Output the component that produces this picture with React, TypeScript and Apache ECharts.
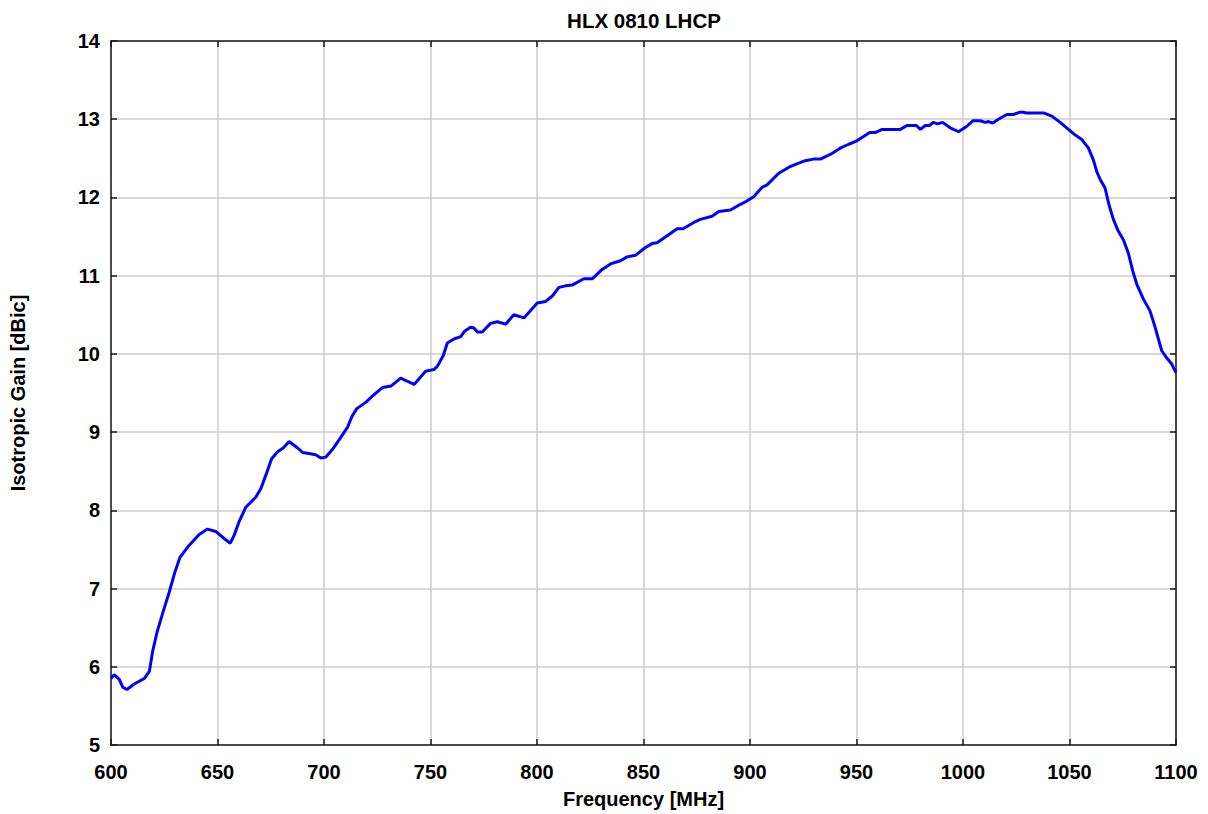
import React, { useEffect, useRef } from "react";
import * as echarts from "echarts";

const TITLE = "HLX 0810 LHCP";
const X_NAME = "Frequency [MHz]";
const Y_NAME = "Isotropic Gain [dBic]";

const freqs: number[] = [
  600, 601.5, 603.9, 605.5, 607.5, 610.9, 615.6, 618, 619.5, 621.6, 624.2, 627.4, 630, 632.4, 636,
  641.4, 645.3, 649.2, 653.1, 656, 657.8, 660.2, 663.3, 668, 670.4, 672.7, 675.4, 678.2, 681, 683.6,
  687.5, 689.9, 692.2, 696.1, 698.5, 700.8, 704, 707.8, 711, 713.3, 715.4, 719.6, 722.7, 727.4, 731.6,
  736, 739.2, 742.3, 747.8, 751.6, 753.2, 756, 757.9, 761, 764.2, 766, 768.8, 770.4, 772, 774.3,
  778.2, 781.4, 785.3, 789.1, 793.9, 800.1, 804, 807.2, 810.3, 813.4, 816.5, 822, 825.9, 830.6, 834.5,
  839.2, 842.3, 846.2, 850.9, 854, 856.4, 861.1, 865.8, 868.6, 873.6, 876.7, 882.2, 885.3, 890.8, 894.7,
  898.3, 901.7, 905.7, 908, 913.5, 918.5, 922, 925.9, 929.8, 933, 937.7, 942.3, 946.3, 949.9, 953.3,
  956.2, 958.8, 962, 965.9, 970.6, 973.7, 978.1, 980, 982.3, 984.3, 986, 988.1, 990.4, 994, 997.9,
  1001.8, 1004.6, 1008.1, 1010.4, 1012, 1014, 1016.6, 1020.6, 1023.7, 1026.8, 1028.1, 1030, 1037.8, 1041.7, 1045.6,
  1049.5, 1052.6, 1055.8, 1058.9, 1061.2, 1062.8, 1064.4, 1066.7, 1068.7, 1070.6, 1072.9, 1075.3, 1077.6, 1079.7, 1081.6,
  1084.7, 1087.8, 1090.2, 1093.3, 1095.6, 1098, 1100,
];

const gains: number[] = [
  5.85, 5.9, 5.84, 5.74, 5.71, 5.78, 5.85, 5.94, 6.19, 6.44, 6.68, 6.96, 7.21, 7.4, 7.53,
  7.69, 7.76, 7.73, 7.64, 7.58, 7.68, 7.86, 8.04, 8.17, 8.28, 8.45, 8.66, 8.75, 8.8, 8.88,
  8.8, 8.74, 8.73, 8.71, 8.67, 8.68, 8.78, 8.93, 9.06, 9.21, 9.3, 9.38, 9.46, 9.57, 9.59,
  9.69, 9.65, 9.61, 9.78, 9.8, 9.84, 9.98, 10.14, 10.19, 10.22, 10.29, 10.34, 10.33, 10.28, 10.28,
  10.39, 10.41, 10.38, 10.5, 10.46, 10.65, 10.67, 10.74, 10.85, 10.87, 10.88, 10.96, 10.96, 11.08, 11.15,
  11.19, 11.24, 11.26, 11.36, 11.41, 11.42, 11.51, 11.6, 11.6, 11.68, 11.72, 11.76, 11.82, 11.84, 11.9,
  11.95, 12.01, 12.13, 12.16, 12.31, 12.39, 12.43, 12.47, 12.49, 12.49, 12.55, 12.63, 12.68, 12.72, 12.78,
  12.83, 12.83, 12.87, 12.87, 12.87, 12.92, 12.92, 12.87, 12.92, 12.92, 12.96, 12.94, 12.96, 12.89, 12.84,
  12.91, 12.98, 12.98, 12.96, 12.97, 12.95, 13.0, 13.06, 13.06, 13.09, 13.09, 13.08, 13.08, 13.04, 12.96,
  12.87, 12.8, 12.74, 12.63, 12.48, 12.33, 12.23, 12.12, 11.89, 11.72, 11.57, 11.46, 11.29, 11.06, 10.89,
  10.7, 10.55, 10.34, 10.04, 9.95, 9.87, 9.76,
];

const X_MIN = 600;
const X_MAX = 1100;
const X_STEP = 50;
const Y_MIN = 5;
const Y_MAX = 14;
const Y_STEP = 1;

const FONT = "'Liberation Sans', Arial, Helvetica, sans-serif";

export default function App() {
  const ref = useRef<HTMLDivElement>(null);

  useEffect(() => {
    if (!ref.current) return;
    const chart = echarts.init(ref.current, null, { renderer: "svg" });
    const data = freqs.map((f, i) => [f, gains[i]]);

    const axisLine = { show: true, lineStyle: { color: "#1a1a1a", width: 1.5 } };
    const tick = { show: true, inside: true, length: 6, lineStyle: { color: "#1a1a1a", width: 1.5 } };
    const split = { show: true, lineStyle: { color: "#cccccc", width: 1.5 } };
    const label = { color: "#000", fontSize: 20, fontWeight: "bold" as const, fontFamily: FONT };
    const plain = (v: number) => String(v);

    chart.setOption({
      animation: false,
      backgroundColor: "#ffffff",
      title: {
        text: TITLE,
        left: 639,
        textAlign: "center",
        top: 5,
        textStyle: { color: "#000", fontSize: 20.5, fontWeight: "bold", fontFamily: FONT },
      },
      grid: { left: 110, right: 32, top: 41, bottom: 67, containLabel: false },
      xAxis: [
        {
          type: "value",
          min: X_MIN,
          max: X_MAX,
          interval: X_STEP,
          name: X_NAME,
          nameLocation: "middle",
          nameGap: 44,
          nameTextStyle: { ...label },
          axisLine,
          axisTick: tick,
          splitLine: split,
          axisLabel: { ...label, margin: 17, formatter: plain },
        },
        {
          type: "value",
          position: "top",
          min: X_MIN,
          max: X_MAX,
          interval: X_STEP,
          axisLine,
          axisTick: tick,
          splitLine: { show: false },
          axisLabel: { show: false },
        },
      ],
      yAxis: [
        {
          type: "value",
          min: Y_MIN,
          max: Y_MAX,
          interval: Y_STEP,
          name: Y_NAME,
          nameLocation: "middle",
          nameGap: 83,
          nameTextStyle: { ...label },
          axisLine,
          axisTick: tick,
          splitLine: split,
          axisLabel: { ...label, margin: 11, formatter: plain },
        },
        {
          type: "value",
          position: "right",
          min: Y_MIN,
          max: Y_MAX,
          interval: Y_STEP,
          axisLine,
          axisTick: tick,
          splitLine: { show: false },
          axisLabel: { show: false },
        },
      ],
      series: [
        {
          type: "line",
          data,
          showSymbol: false,
          symbol: "none",
          smooth: false,
          lineStyle: { color: "#0000ff", width: 3 },
          z: 5,
        },
      ],
    });

    return () => chart.dispose();
  }, []);

  return (
    <div
      ref={ref}
      style={{ position: "fixed", left: 0, top: 0, width: 1208, height: 814, background: "#fff" }}
    />
  );
}
